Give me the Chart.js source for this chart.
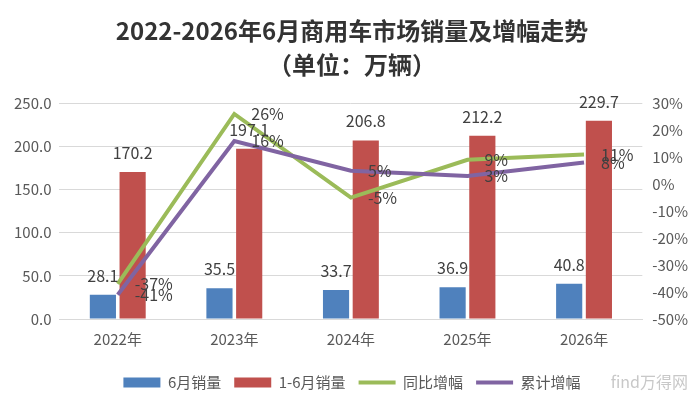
<!DOCTYPE html>
<html lang="zh">
<head>
    <meta charset="UTF-8">
    <title>商用车市场销量</title>
    <script src="https://cdn.jsdelivr.net/npm/chart.js"></script>
</head>
<style>
    html, body { margin: 0; padding: 0; background: #ffffff; }
    .grafico_sty { position: relative; width: 700px; height: 407px; }
    .marca { position: absolute; right: 12px; bottom: 14px; font: 16px "Noto Sans CJK SC"; color: #c8c8c8; }
</style>
<body>
    <div class="grafico_sty">
        <canvas id="grafico_1" width="700" height="407"></canvas>
        <div class="marca">find万得网</div>
    </div>

    <script>
        const anos = ['2022年', '2023年', '2024年', '2025年', '2026年'];
        const vendasJunho = [28.1, 35.5, 33.7, 36.9, 40.8];
        const vendasAcum = [170.2, 197.1, 206.8, 212.2, 229.7];
        const crescAnual = [-37, 26, -5, 9, 11];
        const crescAcum = [-41, 16, 5, 3, 8];

        const fonte = '"Noto Sans CJK SC", "Noto Sans", sans-serif';
        const cinza = '#595959';

        // rotulos de valor estilo Excel
        const rotulos = {
            id: 'rotulos',
            afterDatasetsDraw(chart) {
                const c = chart.ctx;
                c.save();
                c.fillStyle = '#404040';
                c.font = '16px ' + fonte;
                chart.data.datasets.forEach((ds, i) => {
                    const meta = chart.getDatasetMeta(i);
                    meta.data.forEach((el, j) => {
                        if (ds.type === 'line') {
                            c.textAlign = 'left';
                            c.textBaseline = 'middle';
                            c.fillText(ds.data[j] + '%', el.x + 17, el.y);
                        } else {
                            c.textAlign = 'center';
                            c.textBaseline = 'alphabetic';
                            c.fillText(ds.data[j].toFixed(1), el.x, el.y - 13);
                        }
                    });
                });
                c.restore();
            }
        };

        const ctx = document.getElementById('grafico_1');

        const grafico_1 = new Chart(ctx, {
            data: {
                labels: anos,
                datasets: [{
                    type: 'bar',
                    label: '6月销量',
                    data: vendasJunho,
                    backgroundColor: '#4F81BD',
                    yAxisID: 'y',
                    categoryPercentage: 0.51,
                    barPercentage: 0.88,
                    order: 2
                }, {
                    type: 'bar',
                    label: '1-6月销量',
                    data: vendasAcum,
                    backgroundColor: '#C0504D',
                    yAxisID: 'y',
                    categoryPercentage: 0.51,
                    barPercentage: 0.88,
                    order: 2
                }, {
                    type: 'line',
                    label: '同比增幅',
                    data: crescAnual,
                    borderColor: '#9BBB59',
                    backgroundColor: '#9BBB59',
                    borderWidth: 4,
                    pointRadius: 0,
                    yAxisID: 'y1',
                    order: 1
                }, {
                    type: 'line',
                    label: '累计增幅',
                    data: crescAcum,
                    borderColor: '#8064A2',
                    backgroundColor: '#8064A2',
                    borderWidth: 4,
                    pointRadius: 0,
                    yAxisID: 'y1',
                    order: 0
                }]
            },
            options: {
                responsive: false,
                animation: false,
                devicePixelRatio: 1,
                layout: { padding: { left: 6, right: 2, top: 14, bottom: 7 } },
                plugins: {
                    tooltip: { enabled: false },
                    title: {
                        display: true,
                        text: ['2022-2026年6月商用车市场销量及增幅走势', '（单位：万辆）'],
                        color: '#333333',
                        font: { family: fonte, size: 24, weight: 'bold', lineHeight: 1.4 },
                        padding: { top: 0, bottom: 22 }
                    },
                    legend: {
                        position: 'bottom',
                        labels: {
                            color: cinza,
                            font: { family: fonte, size: 15 },
                            usePointStyle: true,
                            pointStyleWidth: 37,
                            boxHeight: 10,
                            padding: 13,
                            generateLabels(chart) {
                                return chart.data.datasets.map((ds, i) => ({
                                    text: ds.label,
                                    datasetIndex: i,
                                    fillStyle: ds.backgroundColor,
                                    strokeStyle: ds.type === 'line' ? ds.borderColor : ds.backgroundColor,
                                    lineWidth: ds.type === 'line' ? 4 : 0,
                                    pointStyle: ds.type === 'line' ? 'line' : 'rect',
                                    fontColor: cinza,
                                    hidden: false
                                }));
                            }
                        }
                    }
                },
                scales: {
                    x: {
                        grid: { display: false },
                        border: { color: '#d9d9d9' },
                        ticks: { color: cinza, font: { family: fonte, size: 15 }, padding: 3 },
                        afterFit: s => { s.height += 11; }
                    },
                    y: {
                        position: 'left',
                        min: 0,
                        max: 250,
                        ticks: {
                            stepSize: 50,
                            color: cinza,
                            font: { family: fonte, size: 15 },
                            padding: 8,
                            callback: v => v.toFixed(1)
                        },
                        grid: { color: '#d9d9d9', drawTicks: false },
                        border: { display: false }
                    },
                    y1: {
                        position: 'right',
                        min: -50,
                        max: 30,
                        ticks: {
                            stepSize: 10,
                            color: cinza,
                            font: { family: fonte, size: 15 },
                            padding: 10,
                            callback: v => v + '%'
                        },
                        grid: { display: false, drawTicks: false },
                        border: { display: false }
                    }
                }
            },
            plugins: [rotulos]
        });
    </script>
</body>
</html>
